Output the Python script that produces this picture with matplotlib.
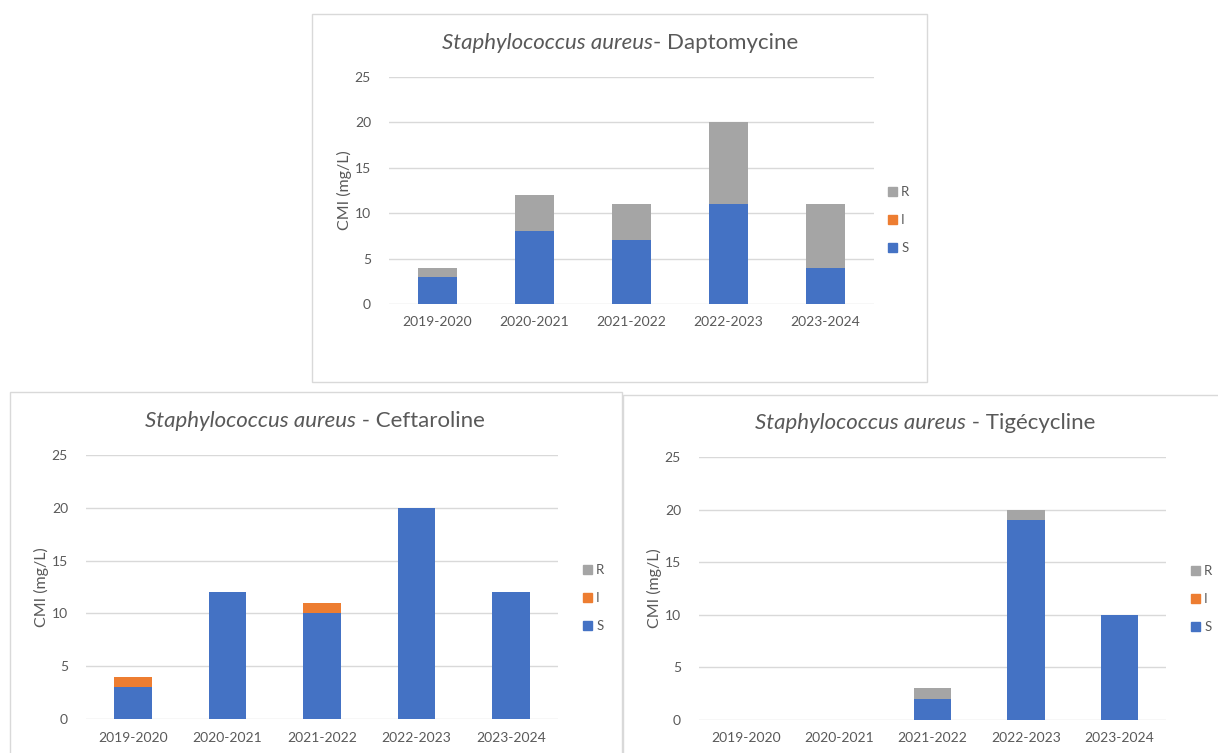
import matplotlib
matplotlib.use("Agg")
import matplotlib.pyplot as plt
from matplotlib.patches import Rectangle, Patch
from matplotlib.offsetbox import TextArea, HPacker, AnnotationBbox

# --- Données ---
annees = ['2019-2020', '2020-2021', '2021-2022', '2022-2023', '2023-2024']

dapto_S = [3, 8, 7, 11, 4]
dapto_I = [0, 0, 0, 0, 0]
dapto_R = [1, 4, 4, 9, 7]

cefta_S = [3, 12, 10, 20, 12]
cefta_I = [1, 0, 1, 0, 0]
cefta_R = [0, 0, 0, 0, 0]

tige_S = [0, 0, 2, 19, 10]
tige_I = [0, 0, 0, 0, 0]
tige_R = [0, 0, 1, 1, 0]

# --- Style ---
W, H = 1218, 753
C_S, C_I, C_R = '#4472C4', '#ED7D31', '#A5A5A5'
GRIS_TXT = '#595959'
GRIS_GRID = '#D9D9D9'
plt.rcParams['font.family'] = ['Lato', 'DejaVu Sans']

fig = plt.figure(figsize=(W / 100, H / 100), dpi=100)


def px_rect(x0, y0, x1, y1):
    """Convertit une boîte en pixels (origine en haut) vers les coordonnées figure."""
    return [x0 / W, 1 - y1 / H, (x1 - x0) / W, (y1 - y0) / H]


def panneau(boite, zone_ax, titre_it, titre_fin, pos_titre, S, I, R, pos_leg, ylab_x):
    # cadre du graphique (derrière les axes)
    bx = px_rect(*boite)
    fig.patches.append(Rectangle((bx[0], bx[1]), bx[2], bx[3], transform=fig.transFigure,
                                 facecolor='white', edgecolor='#D9D9D9', linewidth=1.0, zorder=-1))

    ax = fig.add_axes(px_rect(*zone_ax))
    x = range(len(annees))
    ax.bar(x, S, width=0.4, color=C_S, label='S', zorder=3)
    ax.bar(x, I, width=0.4, bottom=S, color=C_I, label='I', zorder=3)
    bas_R = [s + i for s, i in zip(S, I)]
    ax.bar(x, R, width=0.4, bottom=bas_R, color=C_R, label='R', zorder=3)

    ax.set_xlim(-0.5, len(annees) - 0.5)
    ax.set_ylim(0, 25)
    ax.set_yticks(range(0, 26, 5))
    ax.set_xticks(list(x))
    ax.set_xticklabels(annees)
    ax.tick_params(length=0, labelsize=10, colors=GRIS_TXT)
    ax.tick_params(axis='y', pad=13)
    ax.tick_params(axis='x', pad=9)
    ax.grid(axis='y', color=GRIS_GRID, linewidth=1.0, zorder=0)
    for s in ax.spines.values():
        s.set_visible(False)
    ax.patch.set_alpha(0)

    ax.set_ylabel('CMI (mg/L)', fontsize=11.5, color=GRIS_TXT)
    largeur = zone_ax[2] - zone_ax[0]
    ax.yaxis.set_label_coords((ylab_x - zone_ax[0]) / largeur, 0.5)

    # titre : partie en italique + partie droite
    t1 = TextArea(titre_it, textprops=dict(fontsize=16, style='italic', color=GRIS_TXT))
    t2 = TextArea(titre_fin, textprops=dict(fontsize=16, color=GRIS_TXT))
    pack = HPacker(children=[t1, t2], pad=0, sep=0, align='baseline')
    ab = AnnotationBbox(pack, (pos_titre[0] / W, 1 - pos_titre[1] / H), xycoords='figure fraction',
                        frameon=False, box_alignment=(0.5, 0.5))
    fig.add_artist(ab)

    # légende (R, I, S de haut en bas)
    poignees = [Patch(color=C_R, label='R'), Patch(color=C_I, label='I'), Patch(color=C_S, label='S')]
    fig.legend(handles=poignees, loc='center left',
               bbox_to_anchor=(pos_leg[0] / W, 1 - pos_leg[1] / H),
               frameon=False, fontsize=9.5, labelcolor=GRIS_TXT,
               handlelength=0.65, handleheight=0.65, handletextpad=0.35,
               labelspacing=1.2, borderpad=0, borderaxespad=0)
    return ax


panneau((312, 14, 927, 382), (389, 77, 874, 304),
        'Staphylococcus aureus', '- Daptomycine', (620, 43),
        dapto_S, dapto_I, dapto_R, (888, 220), 352)

panneau((10, 392, 622, 770), (86, 455, 558, 719),
        'Staphylococcus aureus', ' - Ceftaroline', (315, 421),
        cefta_S, cefta_I, cefta_R, (583, 598), 49)

panneau((623, 395, 1240, 770), (699, 457, 1166, 720),
        'Staphylococcus aureus', ' - Tigécycline', (925, 423),
        tige_S, tige_I, tige_R, (1191, 599), 662)

fig.savefig('out.png', dpi=100)
